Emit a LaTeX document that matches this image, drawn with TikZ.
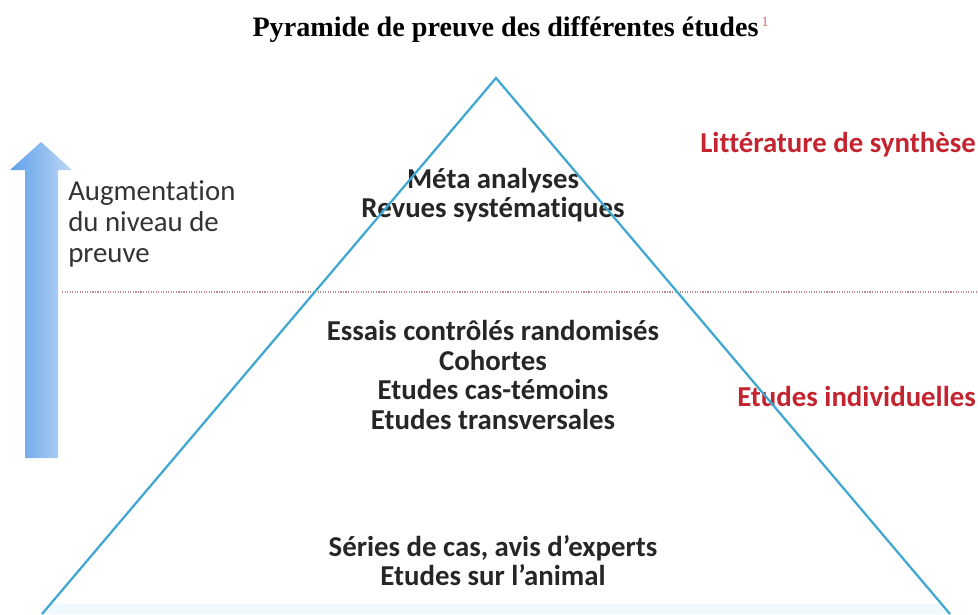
\documentclass[tikz,border=0pt]{standalone}
\usepackage{fontspec}
\setmainfont{Liberation Serif}
\setsansfont{Carlito}[Ligatures=NoCommon]
\usepackage{xcolor}
\usepackage{tikz}
\usetikzlibrary{positioning}
\definecolor{pyrBlue}{RGB}{62,168,208}
\definecolor{synRed}{RGB}{196,36,48}
\definecolor{dotRed}{RGB}{190,140,140}
\definecolor{arrDark}{RGB}{95,160,235}
\definecolor{arrLight}{RGB}{190,215,245}
\tikzstyle{levelText}=[font=\sffamily\bfseries\fontsize{20.5}{21}\selectfont, text=black!85, align=center, inner sep=0pt]
\tikzstyle{sideText}=[font=\sffamily\bfseries\fontsize{20.5}{22}\selectfont, text=synRed, anchor=west, inner sep=0pt]
\tikzstyle{pyrEdge}=[pyrBlue, line width=1.6pt]

\begin{document}
\begin{tikzpicture}[x=0.025cm, y=-0.025cm]

    \useasboundingbox (0,0) rectangle (978,614);

    % nodes

    \node[font=\bfseries\fontsize{20}{22}\selectfont, inner sep=0pt] (title) at (511,30) {Pyramide de preuve des différentes études\textsuperscript{\,\textcolor{synRed!70}{\mdseries\fontsize{10}{10}\selectfont 1}}};

    \coordinate (apex) at (496,78);
    \coordinate (baseL) at (42,614);
    \coordinate (baseR) at (950,614);
    \coordinate (bandL) at (50.5,604);
    \coordinate (bandR) at (941.5,604);
    \coordinate (sepL) at (62,292);
    \coordinate (sepR) at (978,292);

    \node[levelText, font=\sffamily\bfseries\fontsize{20.5}{20.6}\selectfont] (top) at (493,195) {Méta analyses\\Revues systématiques};
    \node[levelText, font=\sffamily\bfseries\fontsize{20.5}{21.3}\selectfont] (mid) at (493,375) {Essais contrôlés randomisés\\Cohortes\\Etudes cas-témoins\\Etudes transversales};
    \node[levelText, font=\sffamily\bfseries\fontsize{20.5}{20.6}\selectfont] (low) at (493,561) {Séries de cas, avis d’experts\\Etudes sur l’animal};

    \node[sideText] (synth) at (700,145) {Littérature de synthèse};
    \node[sideText] (indiv) at (737,396) {Etudes individuelles};

    \node[font=\sffamily\fontsize{20.5}{22}\selectfont, text=black!80, align=left, anchor=west, inner sep=0pt] (augm) at (68,224) {Augmentation\\du niveau de\\preuve};

    % shapes

    \fill[cyan!6] (bandL) -- (bandR) -- (baseR) -- (baseL) -- cycle;
    \draw[pyrEdge, line join=miter] (baseL) -- (apex) -- (baseR);
    \draw[dotRed, densely dotted, line width=0.8pt] (sepL) -- (sepR);

    \shade[left color=arrDark, right color=arrLight] (25,458) -- (25,170) -- (10,170) -- (41,142) -- (72,170) -- (58,170) -- (58,458) -- cycle;

\end{tikzpicture}
\end{document}
